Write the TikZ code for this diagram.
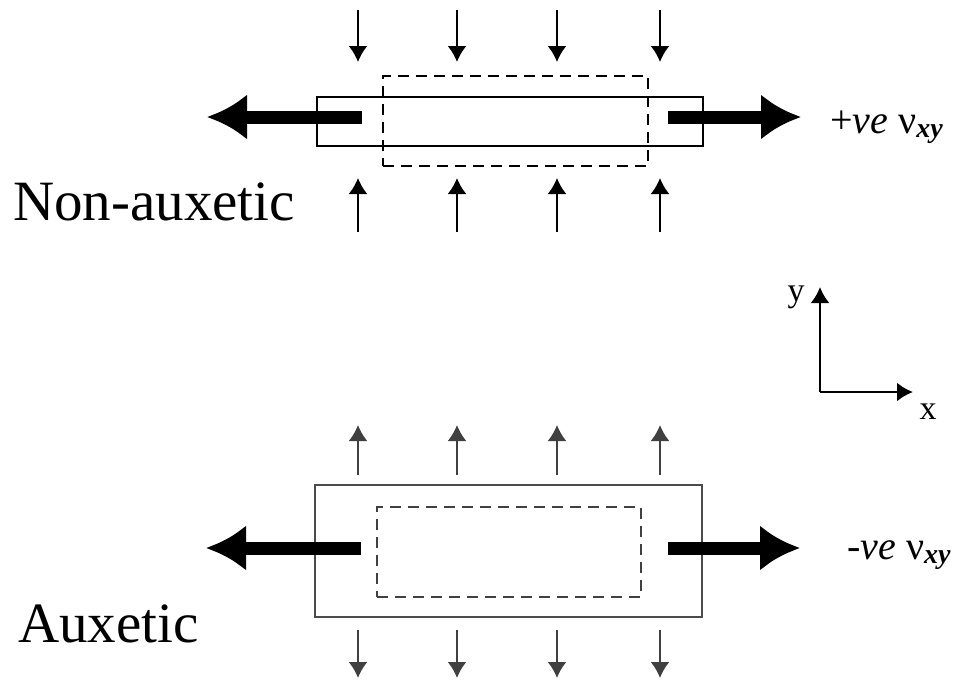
\documentclass[tikz,border=0pt]{standalone}
\usepackage{fontspec}
\setmainfont{Liberation Serif}
\usetikzlibrary{arrows.meta}
\newcommand{\poisson}[1]{#1\textit{ve} ν\textsubscript{\textbf{\textit{xy}}}}

\begin{document}
\begin{tikzpicture}[x=1pt,y=-1pt,
    solidbox/.style={draw, line width=2.6pt, inner sep=0pt},
    dashbox/.style={draw, dash pattern=on 11pt off 7pt, line width=2.6pt, inner sep=0pt},
    pull/.style={-{Latex[length=40pt,width=46pt]}, line width=13pt},
    load/.style={-{Latex[length=16pt,width=19pt]}, line width=2.2pt},
    bigtext/.style={anchor=base west, inner sep=0pt, font=\fontsize{57}{62}\selectfont},
    nutext/.style={anchor=base west, inner sep=0pt, font=\fontsize{40}{44}\selectfont},
    axtext/.style={inner sep=0pt, font=\fontsize{34}{38}\selectfont}]
        \useasboundingbox (0,0) rectangle (957,680);%
        % non-auxetic strip
        \node[solidbox, minimum width=386pt, minimum height=49pt] (nabar) at (510,121.5) {};%
        \node[dashbox, minimum width=265pt, minimum height=90pt] (nadash) at (515.5,121) {};%
        \coordinate (naL0) at (362,117); \coordinate (naL1) at (207,117);%
        \coordinate (naR0) at (668,117); \coordinate (naR1) at (801,117);%
        \draw[pull] (naL0) -- (naL1); %
        \draw[pull] (naR0) -- (naR1); %
        \node[bigtext] (nonaux) at (13,220) {Non-auxetic};%
        \node[nutext] (napos) at (830,133) {\poisson{+}};%
        % auxetic strip
        \node[solidbox, draw=black!70, minimum width=387pt, minimum height=132pt] (axbar) at (508.5,551) {};%
        \node[dashbox, draw=black!75, minimum width=264pt, minimum height=90pt] (axdash) at (509,552) {};%
        \coordinate (axL0) at (361,548); \coordinate (axL1) at (206,548);%
        \coordinate (axR0) at (668,548); \coordinate (axR1) at (800,548);%
        \draw[pull] (axL0) -- (axL1); %
        \draw[pull] (axR0) -- (axR1); %
        \node[bigtext] (aux) at (18,642) {Auxetic};%
        \node[nutext] (axneg) at (847,559) {\poisson{-}};%
        % small load arrows
        \foreach \i/\px in {1/358,2/457,3/557,4/660} {%
          \coordinate (ta\i) at (\px,10);  \coordinate (tb\i) at (\px,62);%
          \coordinate (ua\i) at (\px,232); \coordinate (ub\i) at (\px,178);%
          \coordinate (va\i) at (\px,475); \coordinate (vb\i) at (\px,425);%
          \coordinate (wa\i) at (\px,630); \coordinate (wb\i) at (\px,678);%
          \draw[load] (ta\i) -- (tb\i); %
          \draw[load] (ua\i) -- (ub\i); %
          \draw[load, black!75] (va\i) -- (vb\i); %
          \draw[load, black!75] (wa\i) -- (wb\i); %
        }
        % axes
        \coordinate (o) at (820,392);%
        \coordinate (ytip) at (820,287);%
        \coordinate (xtip) at (913,392);%
        \draw[load, line width=2.6pt] (o) -- (ytip); %
        \draw[load, line width=2.6pt] (o) -- (xtip); %
        \node[axtext] (ylab) at (796,297) {y};%
        \node[axtext] (xlab) at (928,412) {x};%
      \end{tikzpicture}
\end{document}
